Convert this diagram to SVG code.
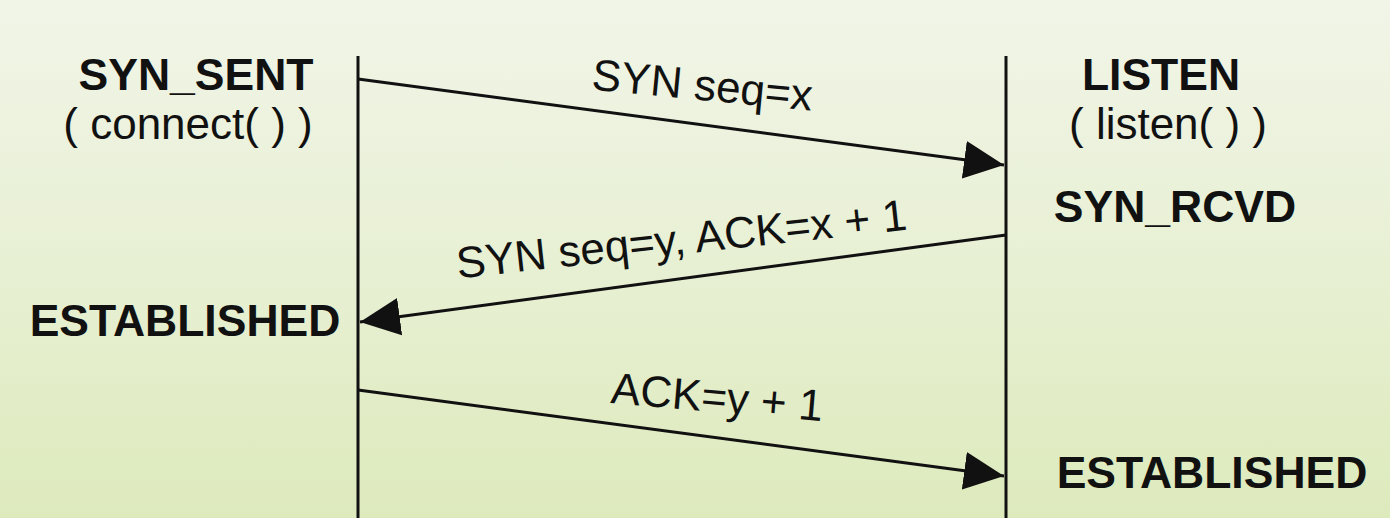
<svg xmlns="http://www.w3.org/2000/svg" width="1390" height="518" viewBox="0 0 1390 518">
  <defs>
    <linearGradient id="bg" x1="0" y1="0" x2="0" y2="1">
      <stop offset="0" stop-color="#f1f5e8"/>
      <stop offset="0.5" stop-color="#e8f0d4"/>
      <stop offset="1" stop-color="#ddeabc"/>
    </linearGradient>
    <marker id="ah" markerUnits="userSpaceOnUse" markerWidth="40" markerHeight="40" viewBox="0 0 36 34" refX="36" refY="17" orient="auto">
      <path d="M0,0 L36,17 L0,34 Z" fill="#111"/>
    </marker>
  </defs>
  <style>
    .st { font-family: "Liberation Sans", Arial, sans-serif; font-weight: bold; font-size: 44.5px; fill: #111; text-anchor: middle; }
    .fn { font-family: "Liberation Sans", Arial, sans-serif; font-size: 44px; fill: #111; text-anchor: middle; }
    .msg { font-family: "Liberation Sans", Arial, sans-serif; font-size: 44px; fill: #111; text-anchor: middle; }
    .life { stroke: #111; stroke-width: 3; fill: none; }
    .arr { stroke: #111; stroke-width: 3; fill: none; marker-end: url(#ah); }
  </style>
  <rect x="0" y="0" width="1390" height="518" fill="url(#bg)"/>

  <g id="client">
    <line class="life" x1="358" y1="56" x2="358" y2="518"/>
    <text class="st" x="196" y="90">SYN_SENT</text>
    <text class="fn" x="188" y="139">( connect( ) )</text>
    <text class="st" x="185" y="336">ESTABLISHED</text>
  </g>

  <g id="server">
    <line class="life" x1="1006" y1="56" x2="1006" y2="518"/>
    <text class="st" x="1161" y="90">LISTEN</text>
    <text class="fn" x="1168" y="139">( listen( ) )</text>
    <text class="st" x="1175" y="222">SYN_RCVD</text>
    <text class="st" x="1212" y="488">ESTABLISHED</text>
  </g>

  <g id="connectors">
    <line class="arr" x1="358" y1="79" x2="1004" y2="165"/>
    <line class="arr" x1="1006" y1="235" x2="360" y2="322"/>
    <line class="arr" x1="358" y1="390" x2="1004" y2="476"/>
    <text class="msg" transform="translate(701,100) rotate(5.5)">SYN seq=x</text>
    <text class="msg" transform="translate(683,254) rotate(-6.2)">SYN seq=y, ACK=x + 1</text>
    <text class="msg" transform="translate(716,412) rotate(4.9)">ACK=y + 1</text>
  </g>
</svg>
